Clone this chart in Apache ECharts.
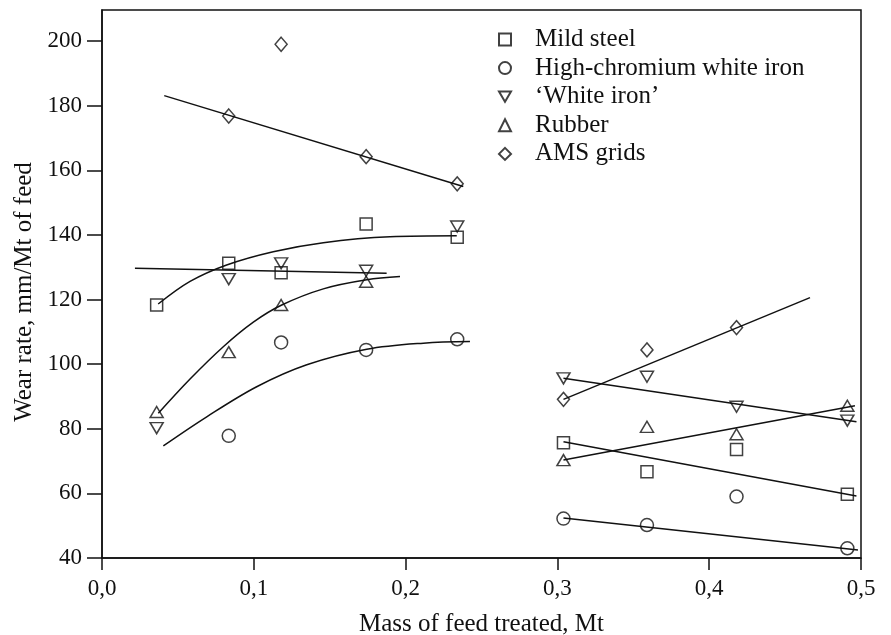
<!DOCTYPE html>
<html>
<head>
<meta charset="utf-8">
<script src="https://cdn.jsdelivr.net/npm/echarts@6/dist/echarts.min.js"></script>
<style>
html,body{margin:0;padding:0;background:#fff;}
#chart{width:891px;height:635px;}
</style>
</head>
<body>
<div id="chart"></div>
<script>
// ---- data ----
const xTicks = [0, 0.1, 0.2, 0.3, 0.4, 0.5];
const yTicks = [40, 60, 80, 100, 120, 140, 160, 180, 200];
const xLeft = [0.036, 0.0835, 0.118, 0.174, 0.234];
const xRight = [0.304, 0.359, 0.418, 0.491];

const mildSteelLeft = [118.3, 131.2, 128.3, 143.4, 139.3];
const mildSteelRight = [75.7, 66.7, 73.6, 59.7];
const highCrLeft = [null, 77.8, 106.7, 104.4, 107.7];
const highCrRight = [52.2, 50.2, 59.0, 43.0];
const whiteIronLeft = [80.2, 126.3, 131.2, 128.9, 142.6];
const whiteIronRight = [95.6, 96.1, 86.8, 82.5];
const rubberLeft = [85.2, 103.7, 118.3, 125.5, null];
const rubberRight = [70.3, 80.6, 78.3, 87.1];
const amsLeft = [null, 176.8, 199.0, 164.2, 155.8];
const amsRight = [89.1, 104.4, 111.3, null];

// fitted curves
const msLeftFit = [[0.037,118.6],[0.058,125.6],[0.0821,130.7],[0.1128,134.8],[0.1458,137.6],[0.1897,139.4],[0.2337,139.7]];
const msRightFit = [[0.304,76.0],[0.497,59.2]];
const hcLeftFit = [[0.0404,74.7],[0.069,83.7],[0.1019,93.0],[0.1349,99.8],[0.1744,104.6],[0.2117,106.5],[0.2424,107.0]];
const hcRightFit = [[0.304,52.4],[0.498,42.5]];
const wiLeftFit = [[0.0217,129.7],[0.1875,128.1]];
const wiRightFit = [[0.304,95.6],[0.497,82.2]];
const rbLeftFit = [[0.0371,84.8],[0.058,95.4],[0.0799,105.4],[0.0997,113.0],[0.1184,118.3],[0.1458,123.3],[0.1744,126.1],[0.1963,127.1]];
const rbRightFit = [[0.304,70.3],[0.496,87.1]];
const amsLeftFit = [[0.041,183.1],[0.238,155.0]];
const amsRightFit = [[0.304,89.1],[0.4664,120.6]];

const names = ['Mild steel', 'High-chromium white iron', '\u2018White iron\u2019', 'Rubber', 'AMS grids'];

// ---- build ----
function pts(xs, ys) {
  const out = [];
  xs.forEach((x, i) => { if (ys[i] !== null) out.push([x, ys[i]]); });
  return out;
}
const FONT = 'Liberation Serif';
const markStyle = { color: 'rgba(0,0,0,0)', borderColor: '#111', borderWidth: 1.5 };
const downTri = 'path://M0,0L20,0L10,17Z';

function scatter(name, symbol, size, data) {
  return { type: 'scatter', name, symbol, symbolSize: size, data, itemStyle: markStyle, z: 5, silent: true };
}
function fit(data, smooth) {
  return { type: 'line', name: 'fit', data, showSymbol: false, symbol: 'none', smooth: smooth ? 0.35 : false,
    lineStyle: { color: '#111', width: 1.5 }, silent: true, z: 3 };
}

const series = [
  scatter(names[0], 'rect', 12, pts(xLeft, mildSteelLeft).concat(pts(xRight, mildSteelRight))),
  scatter(names[1], 'circle', 13, pts(xLeft, highCrLeft).concat(pts(xRight, highCrRight))),
  scatter(names[2], downTri, [13, 11], pts(xLeft, whiteIronLeft).concat(pts(xRight, whiteIronRight))),
  scatter(names[3], 'triangle', [13, 11], pts(xLeft, rubberLeft).concat(pts(xRight, rubberRight))),
  scatter(names[4], 'diamond', [12, 14], pts(xLeft, amsLeft).concat(pts(xRight, amsRight))),
  fit(msLeftFit, true), fit(msRightFit, false),
  fit(hcLeftFit, true), fit(hcRightFit, false),
  fit(wiLeftFit, false), fit(wiRightFit, false),
  fit(rbLeftFit, true), fit(rbRightFit, false),
  fit(amsLeftFit, false), fit(amsRightFit, false)
];

const chart = echarts.init(document.getElementById('chart'), null, { renderer: 'canvas' });
chart.setOption({
  backgroundColor: '#fff',
  animation: false,
  grid: { left: 102, right: 30, top: 10, bottom: 77, show: true, borderColor: '#111', borderWidth: 1.5,
    containLabel: false, outerBoundsMode: 'none' },
  legend: {
    data: names,
    orient: 'vertical',
    left: 493, top: 22,
    itemWidth: 12, itemHeight: 12, itemGap: 3.6,
    textStyle: { fontFamily: FONT, fontSize: 25, color: '#111', lineHeight: 24, padding: [0, 0, 0, 19] },
    selectedMode: false
  },
  xAxis: {
    type: 'value', min: 0, max: 0.5, interval: 0.1,
    name: 'Mass of feed treated, Mt', nameLocation: 'middle', nameGap: 54,
    nameTextStyle: { fontFamily: FONT, fontSize: 25, color: '#111' },
    axisLine: { lineStyle: { color: '#111', width: 1.5 } },
    axisTick: { show: true, inside: false, length: 12, lineStyle: { color: '#111', width: 1.5 }, customValues: xTicks },
    axisLabel: { customValues: xTicks, fontFamily: FONT, fontSize: 23, color: '#111', margin: 19,
      formatter: v => v.toFixed(1).replace('.', ',') },
    splitLine: { show: false }
  },
  yAxis: {
    type: 'value', min: 40, max: 209.6, interval: 20,
    name: 'Wear rate, mm/Mt of feed', nameLocation: 'middle', nameGap: 60,
    nameTextStyle: { fontFamily: FONT, fontSize: 25, color: '#111', padding: [0, 16, 0, 0] },
    axisLine: { show: true, lineStyle: { color: '#111', width: 1.5 } },
    axisTick: { show: true, inside: false, length: 15, lineStyle: { color: '#111', width: 1.5 }, customValues: yTicks },
    axisLabel: { customValues: yTicks, fontFamily: FONT, fontSize: 23, color: '#111', margin: 20 },
    splitLine: { show: false }
  },
  series
});
</script>
</body>
</html>
